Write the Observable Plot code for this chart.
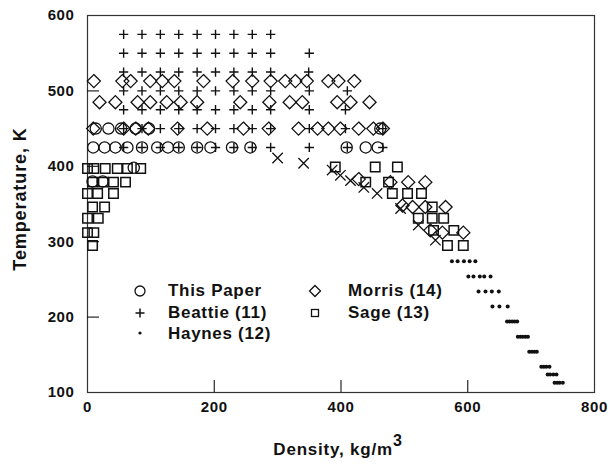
<!DOCTYPE html>
<html><head><meta charset="utf-8">
<script src="https://cdn.jsdelivr.net/npm/d3@7"></script>
<script src="https://cdn.jsdelivr.net/npm/@observablehq/plot@0.6"></script>
<style>
body{margin:0;background:#fff;}
#wrap{position:relative;width:610px;height:464px;font-family:"Liberation Sans",Arial,Helvetica,sans-serif;color:#111;}
#wrap svg.plot text{letter-spacing:0.6px;}
.lab{position:absolute;font-weight:bold;white-space:nowrap;}
#ytitle{font-size:18px;left:20px;top:199px;transform:translate(-50%,-50%) rotate(-90deg);letter-spacing:0.9px;}
#xtitle{font-size:17px;left:338px;top:447px;transform:translate(-50%,-50%);letter-spacing:0.8px;}
#xtitle sup{font-size:16px;position:relative;top:-2px;}
.leg{position:absolute;display:flex;align-items:center;font-size:17px;font-weight:bold;letter-spacing:0.7px;height:20px;}
.leg svg{width:20px;height:20px;overflow:visible;}
</style></head><body><div id="wrap"></div>
<script>
// ---- data (density kg/m3, temperature K) ----
const xTicks = [0, 200, 400, 600, 800];
const yTicks = [100, 200, 300, 400, 500, 600];

const thisPaper = [
  [9,425],[27,425],[44,425],[63,425],[86,425],[110,425],[127,425],[144,425],[173,425],[194,425],[228,425],[257,425],[409,425],[439,425],[458,425],
  [13,450],[33,450],[53,450],[76,450],[97,450],[462,450],
  [73,398],[8,380],[24,380]
];

const beattieRho = [57, 86, 115, 144, 173, 202, 231, 260, 289];
const beattieT = [575, 550, 525, 500, 475, 450, 425];
const beattieExtra = [[350,550],[349,525],[350,500],[410,500],[350,475],[407,475],[350,450],[407,450],[466,450],[350,425],[410,425],[466,425]];

const haynes = [
  [575,274],[584,274],[594,274],[603,274],[612,274],
  [601,254],[609,254],[619,254],[626,254],[636,254],
  [617,234],[628,234],[638,234],[649,234],
  [639,214],[650,214],[663,214],
  [662,194],[666,194],[670,194],[674,194],[678,194],
  [679,174],[683,174],[687,174],[691,174],[695,174],
  [697,154],[701,154],[705,154],[709,154],
  [716,134],[720,134],[724,134],[729,134],
  [726,124],[730,124],[735,124],[740,124],
  [737,113],[741,113],[745,113],[750,113]
];

const morris = [
  [10,513],[55,513],[68,513],[99,513],[118,513],[137,513],[183,513],[229,513],[260,513],[289,513],[312,513],[328,513],[346,513],[380,513],[396,513],[421,513],
  [19,485],[44,485],[79,485],[99,485],[125,485],[147,485],[173,485],[241,485],[287,485],[319,485],[339,485],[394,485],[415,485],[445,485],
  [9,450],[57,450],[76,450],[96,450],[142,450],[189,450],[246,450],[286,450],[333,450],[363,450],[380,450],[399,450],[428,450],[451,450],[466,450],
  [428,383],[478,379],[506,379],[533,379],[497,348],[513,346],[533,346],[565,346],[541,315],[560,312],[593,312]
];

const sage = [
  [0,397],[10,397],[28,397],[47,397],[63,397],[84,397],
  [8,379],[25,379],[41,379],[60,379],
  [0,364],[16,364],[41,364],
  [8,346],[27,346],
  [0,331],[17,331],
  [0,312],[10,312],
  [8,295],
  [391,399],[454,399],[489,399],
  [439,379],[475,379],
  [481,364],[505,364],[527,364],
  [544,346],
  [522,331],[544,331],[562,331],
  [546,315],[578,315],
  [568,295],[593,295]
];

const crosses = [[300,411],[341,404],[386,395],[399,388],[415,381],[436,372],[457,364],[494,344],[522,322],[549,302]];

const legendLeft = [["circle","This Paper"],["plus","Beattie (11)"],["dot","Haynes (12)"]];
const legendRight = [["diamond","Morris (14)"],["square","Sage (13)"]];

// ---- build ----
const beattie = beattieT.flatMap(t => beattieRho.map(r => [r, t])).concat(beattieExtra);
const ink = "#111";
const sym = (data, symbol, r, extra = {}) =>
  Plot.dot(data, {x: d => d[0], y: d => d[1], symbol, r, stroke: ink, fill: "none", strokeWidth: 1.3, ...extra});

const chart = Plot.plot({
  width: 610, height: 464,
  marginLeft: 87, marginRight: 16, marginTop: 15, marginBottom: 72,
  x: {domain: [0, 800]},
  y: {domain: [100, 600]},
  style: {fontFamily: "Liberation Sans, Arial, Helvetica, sans-serif", fontSize: "15px", fontWeight: "bold", color: ink, background: "white", overflow: "visible"},
  className: "plot",
  marks: [
    Plot.frame({stroke: "#333", strokeWidth: 1.2}),
    Plot.axisX({ticks: xTicks, tickSize: 0, tickPadding: 9, label: null}),
    Plot.axisX({ticks: [200, 400, 600], tickSize: -12, tickFormat: () => "", label: null, strokeWidth: 1.1}),
    Plot.axisY({ticks: yTicks, tickSize: 0, tickPadding: 13, label: null}),
    Plot.axisY({ticks: [200, 300, 400, 500], tickSize: -12, tickFormat: () => "", label: null, strokeWidth: 1.1}),
    sym(sage, "square2", 6, {strokeWidth: 1.5}),
    sym(morris, "diamond2", 5.9),
    sym(thisPaper, "circle", 5.6),
    sym(beattie, "plus", 3.1, {strokeWidth: 1.4}),
    sym(crosses, "times", 4.8, {strokeWidth: 1.3}),
    Plot.dot(haynes, {x: d => d[0], y: d => d[1], r: 2, fill: ink, stroke: "none"})
  ]
});
chart.classList.add("plot");
chart.style.position = "absolute";
chart.style.left = "0px";
chart.style.top = "0px";
const wrap = document.getElementById("wrap");
wrap.appendChild(chart);

// axis titles
const yt = document.createElement("div");
yt.id = "ytitle"; yt.className = "lab"; yt.textContent = "Temperature, K";
wrap.appendChild(yt);
const xt = document.createElement("div");
xt.id = "xtitle"; xt.className = "lab"; xt.innerHTML = "Density, kg/m<sup>3</sup>";
wrap.appendChild(xt);

// legend
function icon(kind) {
  const s = {
    circle: '<circle cx="10" cy="10" r="5" fill="none" stroke="#111" stroke-width="1.3"/>',
    plus: '<path d="M5.5 10H14.5M10 5.5V14.5" stroke="#111" stroke-width="1.5"/>',
    dot: '<circle cx="10" cy="9" r="1.6" fill="#111"/>',
    diamond: '<path d="M10 4.5L15.5 10L10 15.5L4.5 10Z" fill="none" stroke="#111" stroke-width="1.3"/>',
    square: '<rect x="6.5" y="6.5" width="7" height="7" fill="none" stroke="#111" stroke-width="1.3"/>'
  }[kind];
  return `<svg viewBox="0 0 20 20">${s}</svg>`;
}
function addLegend(items, symX, textX) {
  const ys = [291, 313, 334];
  items.forEach(([k, label], i) => {
    const a = document.createElement("div");
    a.className = "leg";
    a.style.left = (symX - 10) + "px";
    a.style.top = (ys[i] - 10) + "px";
    a.innerHTML = icon(k);
    wrap.appendChild(a);
    const b = document.createElement("div");
    b.className = "leg";
    b.style.left = textX + "px";
    b.style.top = (ys[i] - 10) + "px";
    b.textContent = label;
    wrap.appendChild(b);
  });
}
addLegend(legendLeft, 140, 168);
addLegend(legendRight, 315, 348);
</script></body></html>
